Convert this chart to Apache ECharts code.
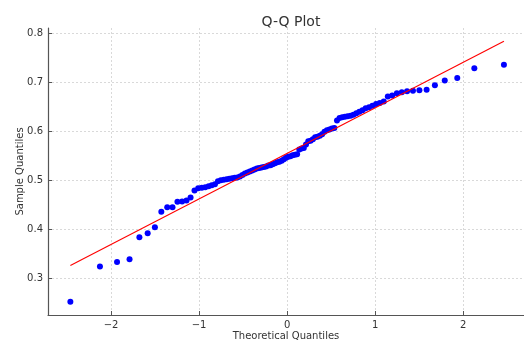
<!DOCTYPE html>
<html>
<head>
<meta charset="utf-8">
<script src="https://cdn.jsdelivr.net/npm/echarts@6/dist/echarts.min.js"></script>
<style>
  html, body { margin: 0; padding: 0; background: #fff; }
  #qq-chart { width: 524px; height: 343px; }
</style>
</head>
<body>
<div id="qq-chart"></div>
<script>
// theoretical quantiles (normal order statistics, n = 100)
const theoretical = [
  -2.462, -2.126, -1.932, -1.790, -1.678, -1.584, -1.502, -1.429, -1.362, -1.302,
  -1.246, -1.193, -1.143, -1.097, -1.052, -1.010, -0.969, -0.930, -0.892, -0.856,
  -0.820, -0.786, -0.753, -0.720, -0.687, -0.656, -0.625, -0.595, -0.566, -0.536,
  -0.508, -0.480, -0.452, -0.424, -0.397, -0.371, -0.344, -0.318, -0.292, -0.266,
  -0.240, -0.214, -0.189, -0.164, -0.138, -0.113, -0.088, -0.062, -0.037, -0.012,
  0.012, 0.037, 0.062, 0.088, 0.113, 0.138, 0.164, 0.189, 0.214, 0.240,
  0.266, 0.292, 0.318, 0.344, 0.371, 0.397, 0.424, 0.452, 0.480, 0.508,
  0.536, 0.566, 0.595, 0.625, 0.656, 0.687, 0.720, 0.753, 0.786, 0.820,
  0.856, 0.892, 0.930, 0.969, 1.010, 1.052, 1.097, 1.143, 1.193, 1.246,
  1.302, 1.362, 1.429, 1.502, 1.584, 1.678, 1.790, 1.932, 2.126, 2.462
];

// ordered sample values
const sample = [
  0.252, 0.324, 0.333, 0.339, 0.384, 0.392, 0.404, 0.436, 0.445, 0.445,
  0.456, 0.457, 0.459, 0.465, 0.479, 0.484, 0.485, 0.486, 0.488, 0.490,
  0.492, 0.498, 0.500, 0.501, 0.502, 0.503, 0.504, 0.505, 0.506, 0.508,
  0.511, 0.514, 0.516, 0.518, 0.520, 0.522, 0.524, 0.525, 0.526, 0.527,
  0.528, 0.530, 0.531, 0.533, 0.535, 0.537, 0.538, 0.540, 0.543, 0.546,
  0.548, 0.549, 0.551, 0.552, 0.553, 0.563, 0.565, 0.566, 0.573, 0.580,
  0.581, 0.584, 0.588, 0.589, 0.591, 0.594, 0.599, 0.602, 0.604, 0.606,
  0.607, 0.622, 0.627, 0.629, 0.630, 0.631, 0.632, 0.634, 0.637, 0.640,
  0.643, 0.647, 0.649, 0.652, 0.656, 0.658, 0.661, 0.671, 0.673, 0.678,
  0.680, 0.682, 0.683, 0.684, 0.685, 0.694, 0.704, 0.709, 0.729, 0.736
];

// fitted reference line end points
const lineX = [-2.462, 2.462];
const lineY = [0.326, 0.784];

const chart = echarts.init(document.getElementById('qq-chart'));

const font = 'DejaVu Sans, sans-serif';
const axisColor = '#333';

const points = theoretical.map((x, i) => [x, sample[i]]);
const fitLine = lineX.map((x, i) => [x, lineY[i]]);

chart.setOption({
  animation: false,
  backgroundColor: '#fff',
  title: {
    text: 'Q-Q Plot',
    left: 286,
    textAlign: 'center',
    top: 10,
    textStyle: { fontFamily: font, fontSize: 14, fontWeight: 'normal', color: '#333' }
  },
  grid: { left: 48, right: 0, top: 28, bottom: 28, containLabel: false, outerBoundsMode: 'none' },
  xAxis: {
    type: 'value',
    min: -2.716,
    max: 2.69,
    minInterval: 1,
    maxInterval: 1,
    name: 'Theoretical Quantiles',
    nameLocation: 'middle',
    nameGap: 16,
    nameMoveOverlap: false,
    nameTextStyle: { fontFamily: font, fontSize: 10, color: axisColor },
    axisLine: { onZero: false, lineStyle: { color: '#555', width: 1.2 } },
    axisTick: { inside: true, length: 4, lineStyle: { color: '#555' } },
    axisLabel: {
      fontFamily: font, fontSize: 10, color: axisColor, margin: 5,
      showMinLabel: false, showMaxLabel: false,
      formatter: v => (v < 0 ? '\u2212' + Math.abs(v) : String(v))
    },
    splitLine: {
      show: true, showMinLine: false, showMaxLine: false,
      lineStyle: { color: '#d0d0d0', type: [2, 2], width: 0.8 }
    }
  },
  yAxis: {
    type: 'value',
    min: 0.225,
    max: 0.811,
    minInterval: 0.1,
    maxInterval: 0.1,
    name: 'Sample Quantiles',
    nameLocation: 'middle',
    nameGap: 23,
    nameMoveOverlap: false,
    nameTextStyle: { fontFamily: font, fontSize: 10, color: axisColor },
    axisLine: { show: true, onZero: false, lineStyle: { color: '#555', width: 1.2 } },
    axisTick: { show: true, inside: true, length: 4, lineStyle: { color: '#555' } },
    axisLabel: {
      fontFamily: font, fontSize: 10, color: axisColor, margin: 5,
      showMinLabel: false, showMaxLabel: false,
      formatter: v => v.toFixed(1)
    },
    splitLine: {
      show: true, showMinLine: false, showMaxLine: false,
      lineStyle: { color: '#d0d0d0', type: [2, 2], width: 0.8 }
    }
  },
  series: [
    {
      type: 'scatter',
      data: points,
      symbolSize: 6,
      itemStyle: { color: '#0000ff', opacity: 1 },
      z: 2
    },
    {
      type: 'line',
      data: fitLine,
      symbol: 'none',
      lineStyle: { color: '#ff0000', width: 1.1 },
      z: 3
    }
  ]
});

window.onresize = () => chart.resize();
</script>
</body>
</html>
